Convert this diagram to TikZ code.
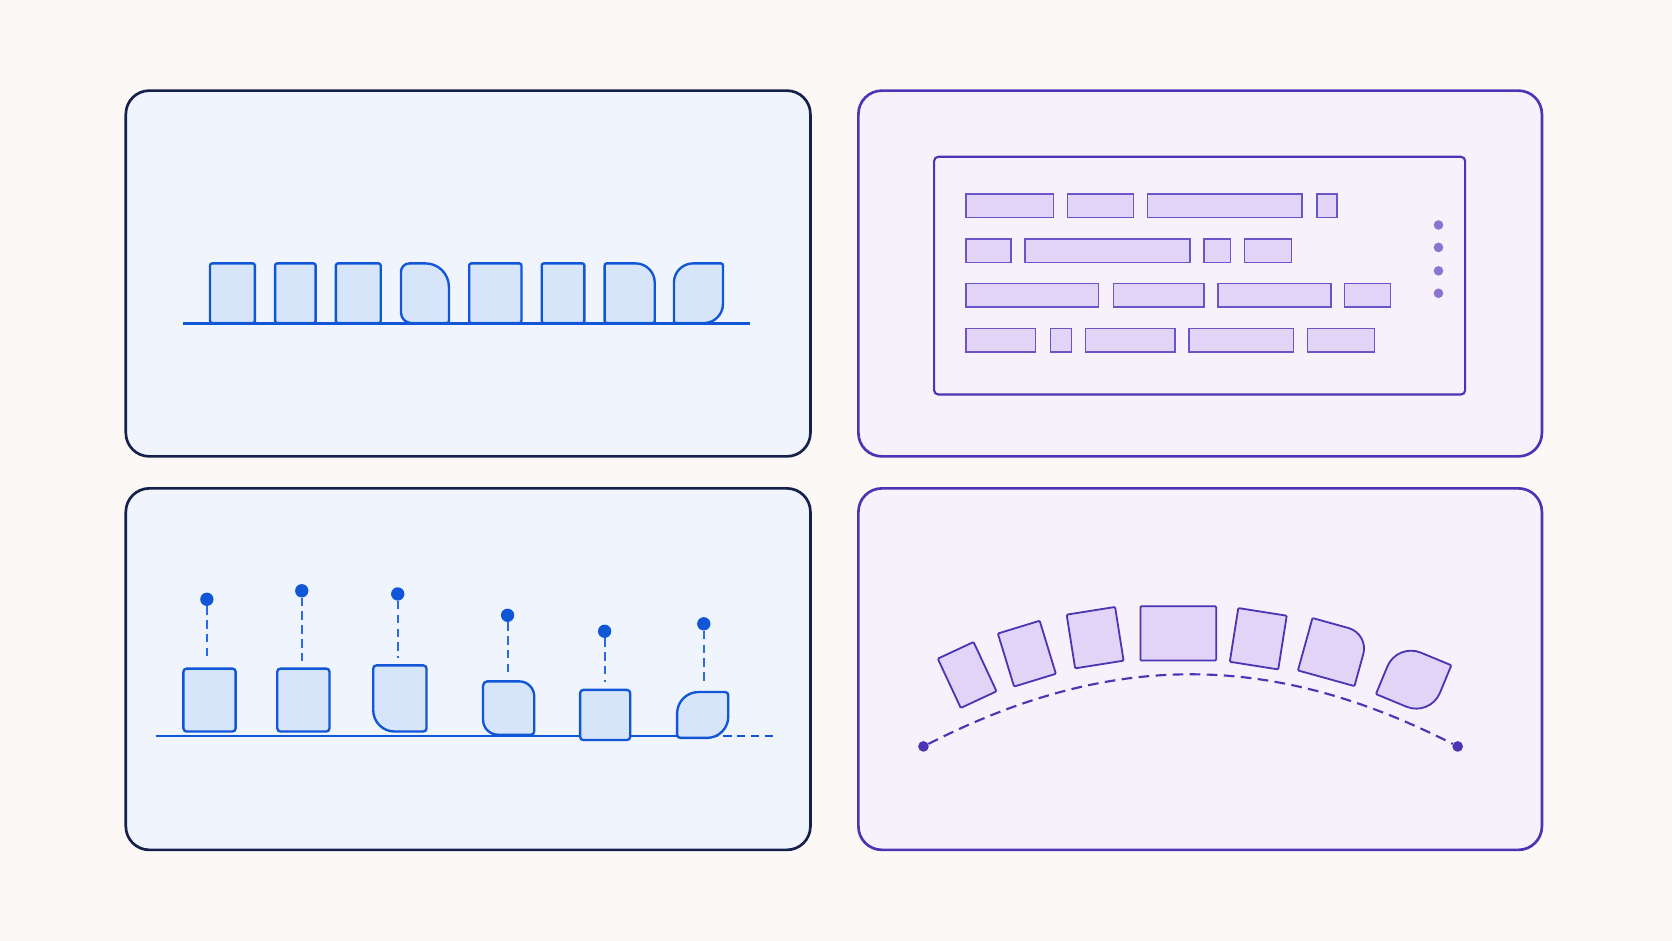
\documentclass[tikz,border=0pt]{standalone}
\usepackage{xcolor}
\usetikzlibrary{arrows.meta,positioning}

\definecolor{paper}{HTML}{FBF8F6}
\definecolor{skyfill}{HTML}{EFF4FD}
\definecolor{navyline}{HTML}{16214B}
\definecolor{lilacfill}{HTML}{F6F1FB}
\definecolor{violetline}{HTML}{4B35B4}
\definecolor{blueline}{HTML}{1156D6}
\definecolor{bluedash}{HTML}{2A6AE8}
\definecolor{bluetile}{HTML}{D7E5FA}
\definecolor{barline}{HTML}{6A55C8}
\definecolor{barfill}{HTML}{E1D4F6}
\definecolor{dotcol}{HTML}{8B74D1}

% box with its own radius at each corner: x1, y1, x2, y2, tl, tr, br, bl
\newcommand{\tile}[9][]{%
  \draw[#1] ({#2+#6},#3) -- ({#4-#7},#3)
    arc[start angle=90,end angle=0,radius=#7pt] -- (#4,{#5-#8})
    arc[start angle=0,end angle=-90,radius=#8pt] -- ({#2+#9},#5)
    arc[start angle=-90,end angle=-180,radius=#9pt] -- (#2,{#3+#6})
    arc[start angle=180,end angle=90,radius=#6pt] -- cycle;}

\begin{document}
\begin{tikzpicture}[
  x=1pt, y=-1pt,
  panelblue/.style={fill=skyfill, draw=navyline, line width=2.5pt, rounded corners=22pt},
  panelviolet/.style={fill=lilacfill, draw=violetline, line width=2.5pt, rounded corners=22pt},
  tilebox/.style={fill=bluetile, draw=blueline, line width=2.2pt},
  rail/.style={draw=blueline, line width=2.3pt},
  bar/.style={fill=barfill, draw=barline, line width=1.4pt},
  knob/.style={circle, fill=blueline, inner sep=0pt, minimum size=12.5pt},
  pinline/.style={draw=bluedash, line width=1.9pt, dash pattern=on 8pt off 5pt},
  arctile/.style={fill=barfill, draw=violetline, line width=1.7pt},
  endknob/.style={circle, fill=violetline, inner sep=0pt, minimum size=10pt},
  arcline/.style={draw=violetline, line width=2pt, dash pattern=on 10pt off 6pt}
]
  \fill[paper] (0,0) rectangle (1568,882);
  \useasboundingbox (0,0) rectangle (1568,882);

  % Panels
  \draw[panelblue] (118,85) rectangle (760,428);
  \draw[panelviolet] (805,85) rectangle (1446,428);
  \draw[panelblue] (118,458) rectangle (760,797);
  \draw[panelviolet] (805,458) rectangle (1446,797);

  % Top left: tiles on one line
  \draw[rail] (172,303.5) -- (703,303.5);
  \foreach \xa/\xb/\ra/\rb/\rc/\rd in {197/239/2/2/2/2, 258/296/2/2/2/2, 315/357/2/2/2/2,
      376/421/8/22/2/10, 440/489/2/2/2/2, 508/548/2/2/2/2, 567/614/2/18/2/2, 632/678/18/2/18/2}
    \tile[tilebox]{\xa}{247}{\xb}{303}{\ra}{\rb}{\rc}{\rd};

  % Top right: text block
  \draw[violetline, line width=2pt, fill=lilacfill, rounded corners=4pt] (876,147) rectangle (1374,370);
  \foreach \xa/\xb/\yy in {906/988/182, 1001/1063/182, 1076/1221/182, 1235/1254/182,
      906/948/224, 961/1116/224, 1129/1154/224, 1167/1211/224,
      906/1030/266, 1044/1129/266, 1142/1248/266, 1261/1304/266,
      906/971/308, 985/1005/308, 1018/1102/308, 1115/1213/308, 1226/1289/308}
    \draw[bar] (\xa,\yy) rectangle (\xb,\yy+22);
  \foreach \yy in {211,232,254,275}
    \fill[dotcol] (1349,\yy) circle[radius=4.5pt];

  % Bottom left: tiles hanging from pins
  \draw[rail] (146,690) -- (640,690);
  \draw[pinline, line width=2pt, draw=blueline] (665,690) -- (727,690);
  \tile[tilebox]{172}{627}{221}{686}{3}{3}{3}{3}
  \tile[tilebox]{260}{627}{309}{686}{3}{3}{3}{3}
  \tile[tilebox]{350}{624}{400}{686}{3}{3}{3}{20}
  \tile[tilebox]{453}{639}{501}{689}{4}{14}{3}{14}
  \tile[tilebox]{544}{647}{591}{694}{3}{3}{3}{3}
  \tile[tilebox]{635}{649}{683}{692}{20}{3}{20}{3}

  \node[knob] (knobA) at (194,562) {};
  \node[knob] (knobB) at (283,554) {};
  \node[knob] (knobC) at (373,557) {};
  \node[knob] (knobD) at (476,577) {};
  \node[knob] (knobE) at (567,592) {};
  \node[knob] (knobF) at (660,585) {};
  \coordinate (topA) at (194,620);
  \coordinate (topB) at (283,620);
  \coordinate (topC) at (373,617);
  \coordinate (topD) at (476,632);
  \coordinate (topE) at (567,640);
  \coordinate (topF) at (660,642);
  \foreach \k in {A,B,C,D,E,F}
    \draw[pinline] (knob\k) -- (top\k);

  % Bottom right: tiles along an arc
  \node[endknob] (arcL) at (866,700) {};
  \node[endknob] (arcR) at (1367,700) {};
  \draw[arcline] (arcL) to[bend left=27] (arcR);
  \foreach \cx/\cy/\rot/\w/\h/\ra/\rb/\rc/\rd in {907/633/25/37/51/1/1/1/1, 963/613/17/41/52/1/1/1/1,
      1027/598/9/46/51/1/1/1/1, 1105/594/0/71/51/1/1/1/1, 1180/599/-9/46/51/1/1/1/1,
      1250.5/611.5/-15.5/55/51/1/20/1/1, 1325.7/637.4/-22.5/55/52/24/1/24/1}
  {
    \begin{scope}[shift={(\cx,\cy)}, rotate=\rot]
      \tile[arctile]{-\w/2}{-\h/2}{\w/2}{\h/2}{\ra}{\rb}{\rc}{\rd}
    \end{scope}
  }
\end{tikzpicture}
\end{document}
